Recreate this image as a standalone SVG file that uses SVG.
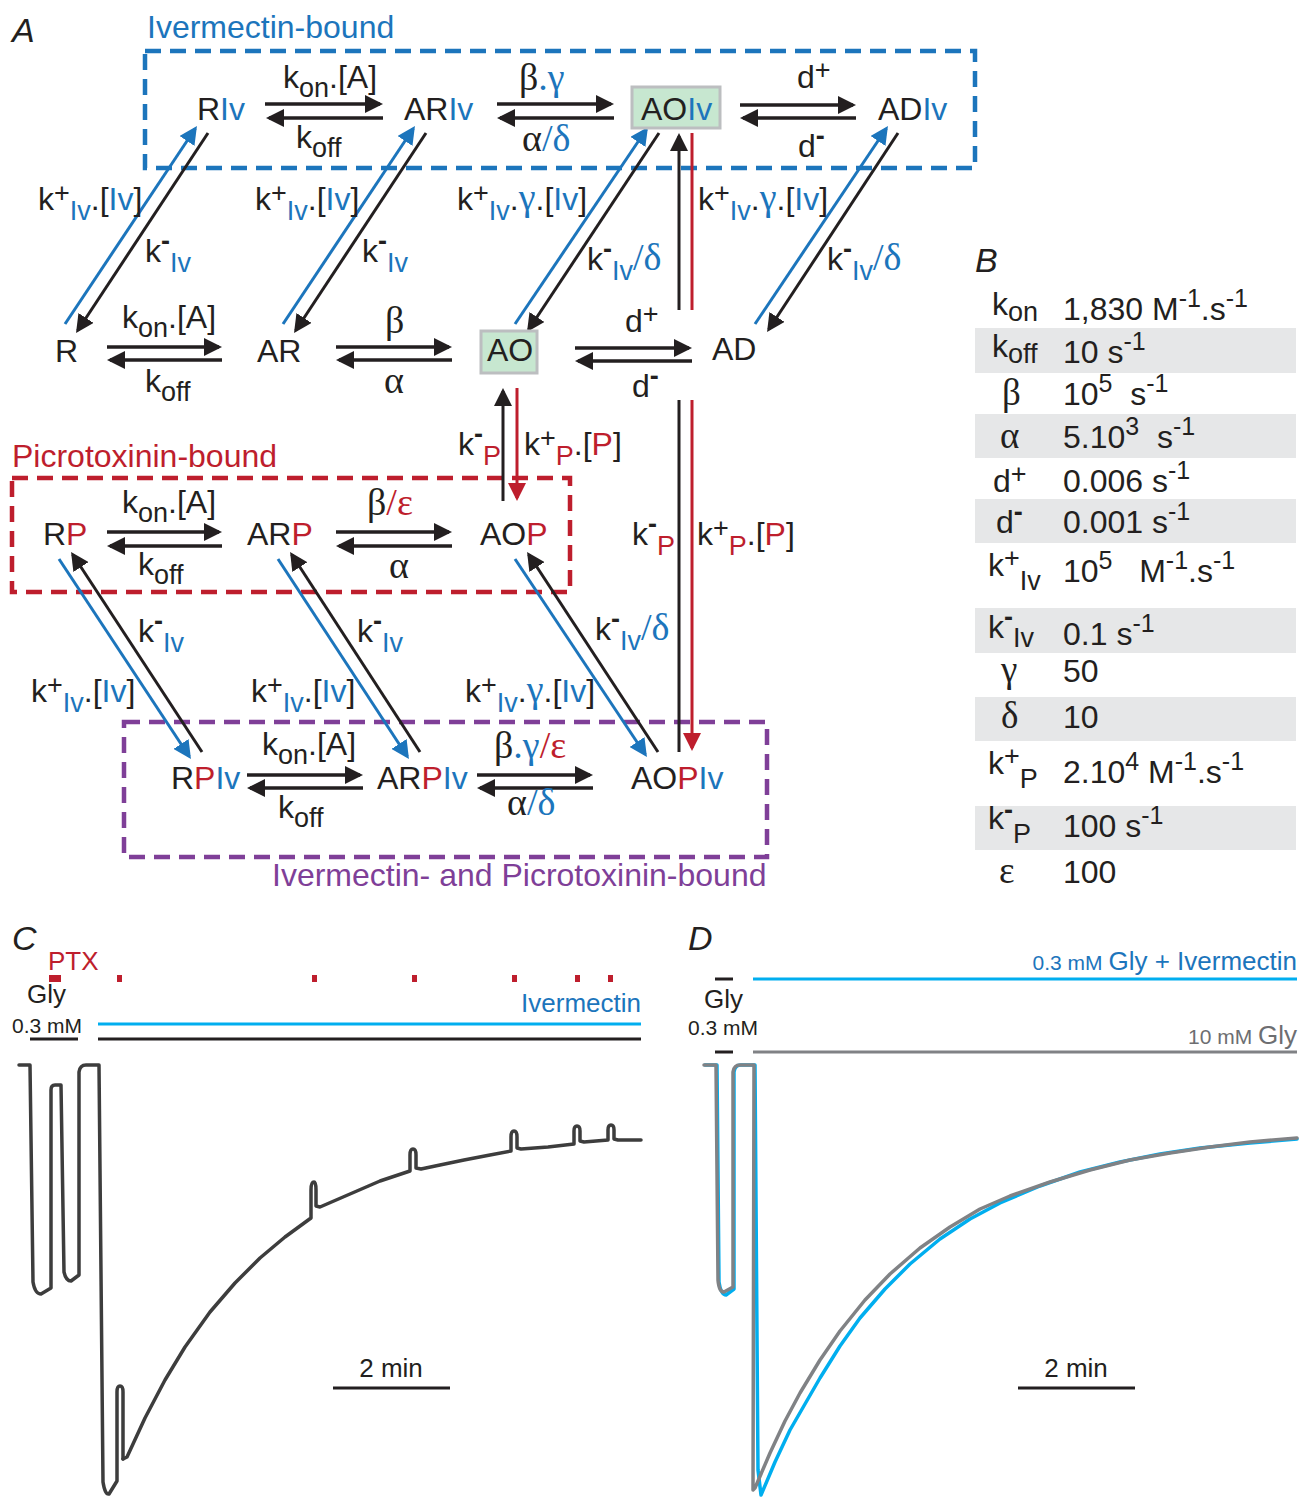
<svg xmlns="http://www.w3.org/2000/svg" width="1299" height="1497" viewBox="0 0 1299 1497">
<style>
text{font-family:"Liberation Sans",Arial,sans-serif;font-size:32px;fill:#231f20}
.sb{font-size:27px}
.mn{font-size:27px;font-weight:bold}
.sp{font-size:25px}
.g{font-family:"Liberation Serif","Times New Roman",serif;font-size:38px}
.gt{font-family:"Liberation Serif","Times New Roman",serif;font-size:37px}
.bl{fill:#1c75bc}
.rd{fill:#be1e2d}
.pu{fill:#7f3f98}
.it{font-style:italic;font-size:34px}
.ck{stroke:#231f20;stroke-width:3.5;fill:none}
.cb{stroke:#1c75bc;stroke-width:3;fill:none}
.cr{stroke:#be1e2d;stroke-width:3;fill:none}
.dk{stroke:#231f20;stroke-width:3;fill:none}
.bx{fill:none;stroke-width:4.5;stroke-dasharray:16 9}
.gb{fill:#c7e7d0;stroke:#bcbec0;stroke-width:3}
.row{fill:#e6e7e8}
.c26{font-size:26px}
.c21{font-size:21px}
.tr{fill:none;stroke-width:3.5;stroke-linejoin:round;stroke-linecap:round}
.gy{fill:#6d6e71}
</style>
<defs>
<marker id="ak" viewBox="0 0 18 18" refX="15" refY="9" markerWidth="18" markerHeight="18" markerUnits="userSpaceOnUse" orient="auto"><path d="M0,0 L18,9 L0,18 Z" fill="#231f20"/></marker>
<marker id="ab" viewBox="0 0 18 18" refX="15" refY="9" markerWidth="18" markerHeight="18" markerUnits="userSpaceOnUse" orient="auto"><path d="M0,0 L18,9 L0,18 Z" fill="#1c75bc"/></marker>
<marker id="ar" viewBox="0 0 18 18" refX="15" refY="9" markerWidth="18" markerHeight="18" markerUnits="userSpaceOnUse" orient="auto"><path d="M0,0 L18,9 L0,18 Z" fill="#be1e2d"/></marker>
</defs>

<!-- Panel A -->
<text class="it" x="12" y="42">A</text>

<g id="group-boxes">
<rect class="bx" x="145" y="51" width="830" height="117" stroke="#1c75bc"/>
<rect class="bx" x="12" y="478" width="558" height="114" stroke="#be1e2d"/>
<rect class="bx" x="124" y="722" width="643" height="135" stroke="#7f3f98"/>
<text class="bl" x="147" y="38">Ivermectin-bound</text>
<text class="rd" x="12" y="467">Picrotoxinin-bound</text>
<text class="pu" x="272" y="886">Ivermectin- and Picrotoxinin-bound</text>
</g>

<g id="connectors">
<path class="ck" d="M265,104H380" marker-end="url(#ak)"/>
<path class="ck" d="M383,118H269" marker-end="url(#ak)"/>
<path class="ck" d="M497,104H611" marker-end="url(#ak)"/>
<path class="ck" d="M614,118H500" marker-end="url(#ak)"/>
<path class="ck" d="M740,105H853" marker-end="url(#ak)"/>
<path class="ck" d="M856,118H743" marker-end="url(#ak)"/>
<path class="ck" d="M107,347H219" marker-end="url(#ak)"/>
<path class="ck" d="M222,360H110" marker-end="url(#ak)"/>
<path class="ck" d="M336,347H449" marker-end="url(#ak)"/>
<path class="ck" d="M452,360H339" marker-end="url(#ak)"/>
<path class="ck" d="M575,348H689" marker-end="url(#ak)"/>
<path class="ck" d="M692,361H578" marker-end="url(#ak)"/>
<path class="ck" d="M107,532H219" marker-end="url(#ak)"/>
<path class="ck" d="M222,546H110" marker-end="url(#ak)"/>
<path class="ck" d="M336,532H449" marker-end="url(#ak)"/>
<path class="ck" d="M452,546H339" marker-end="url(#ak)"/>
<path class="ck" d="M247,775H360" marker-end="url(#ak)"/>
<path class="ck" d="M363,788H250" marker-end="url(#ak)"/>
<path class="ck" d="M477,775H590" marker-end="url(#ak)"/>
<path class="ck" d="M593,788H480" marker-end="url(#ak)"/>
<path class="cb" d="M65,324L195.3,128.5" marker-end="url(#ab)"/>
<path class="dk" d="M208,133L77.7,330.5" marker-end="url(#ak)"/>
<path class="cb" d="M283,324L413.3,128.5" marker-end="url(#ab)"/>
<path class="dk" d="M426,133L295.7,330.5" marker-end="url(#ak)"/>
<path class="cb" d="M515,324L646.3,129.5" marker-end="url(#ab)"/>
<path class="dk" d="M659,133L528.7,329.5" marker-end="url(#ak)"/>
<path class="cb" d="M755,324L886.3,128.5" marker-end="url(#ab)"/>
<path class="dk" d="M898,133L768.7,329.5" marker-end="url(#ak)"/>
<path class="cb" d="M59,559L189.3,756.5" marker-end="url(#ab)"/>
<path class="dk" d="M202,752L72.7,554.5" marker-end="url(#ak)"/>
<path class="cb" d="M278,559L407.3,756.5" marker-end="url(#ab)"/>
<path class="dk" d="M420,752L291.7,554.5" marker-end="url(#ak)"/>
<path class="cb" d="M515,559L645.3,754.5" marker-end="url(#ab)"/>
<path class="dk" d="M658,752L528.7,554.5" marker-end="url(#ak)"/>
<path class="dk" d="M503,501V391" marker-end="url(#ak)"/>
<path class="cr" d="M517,388V498" marker-end="url(#ar)"/>
<path class="dk" d="M679,752V400"/>
<path class="dk" d="M679,310V136" marker-end="url(#ak)"/>
<path class="cr" d="M692,133V310"/>
<path class="cr" d="M692,400V748" marker-end="url(#ar)"/>
</g>

<g id="rate-labels">
<text x="283" y="88">k<tspan class="sb" dy="9">on</tspan><tspan dy="-9">.[A]</tspan></text>
<text x="296" y="148">k<tspan class="sb" dy="9">off</tspan></text>
<text class="g" x="519" y="90">β<tspan class="bl">.γ</tspan></text>
<text class="g" x="522" y="151">α<tspan class="bl">/δ</tspan></text>
<text x="797" y="88">d<tspan class="sb" dy="-9">+</tspan></text>
<text x="798" y="157">d<tspan class="mn" dy="-12">-</tspan></text>
<text x="38" y="210">k<tspan class="sb" dy="-8">+</tspan><tspan class="sb bl" dy="18">Iv</tspan><tspan dy="-10">.[<tspan class="bl">Iv</tspan>]</tspan></text>
<text x="145" y="262">k<tspan class="mn" dy="-12">-</tspan><tspan class="sb bl" dy="22">Iv</tspan></text>
<text x="255" y="210">k<tspan class="sb" dy="-8">+</tspan><tspan class="sb bl" dy="18">Iv</tspan><tspan dy="-10">.[<tspan class="bl">Iv</tspan>]</tspan></text>
<text x="362" y="262">k<tspan class="mn" dy="-12">-</tspan><tspan class="sb bl" dy="22">Iv</tspan></text>
<text x="457" y="210">k<tspan class="sb" dy="-8">+</tspan><tspan class="sb bl" dy="18">Iv</tspan><tspan dy="-10">.<tspan class="g bl">γ</tspan>.[<tspan class="bl">Iv</tspan>]</tspan></text>
<text x="587" y="270">k<tspan class="mn" dy="-12">-</tspan><tspan class="sb bl" dy="22">Iv</tspan><tspan class="g bl" dy="-10">/δ</tspan></text>
<text x="698" y="210">k<tspan class="sb" dy="-8">+</tspan><tspan class="sb bl" dy="18">Iv</tspan><tspan dy="-10">.<tspan class="g bl">γ</tspan>.[<tspan class="bl">Iv</tspan>]</tspan></text>
<text x="827" y="270">k<tspan class="mn" dy="-12">-</tspan><tspan class="sb bl" dy="22">Iv</tspan><tspan class="g bl" dy="-10">/δ</tspan></text>
<text x="122" y="328">k<tspan class="sb" dy="9">on</tspan><tspan dy="-9">.[A]</tspan></text>
<text x="145" y="392">k<tspan class="sb" dy="9">off</tspan></text>
<text class="g" x="385" y="333">β</text>
<text class="g" x="384" y="393">α</text>
<text x="625" y="332">d<tspan class="sb" dy="-9">+</tspan></text>
<text x="632" y="397">d<tspan class="mn" dy="-12">-</tspan></text>
<text x="458" y="455">k<tspan class="mn" dy="-12">-</tspan><tspan class="sb rd" dy="22">P</tspan></text>
<text x="524" y="455">k<tspan class="sb" dy="-8">+</tspan><tspan class="sb rd" dy="18">P</tspan><tspan dy="-10">.[<tspan class="rd">P</tspan>]</tspan></text>
<text x="632" y="545">k<tspan class="mn" dy="-12">-</tspan><tspan class="sb rd" dy="22">P</tspan></text>
<text x="697" y="545">k<tspan class="sb" dy="-8">+</tspan><tspan class="sb rd" dy="18">P</tspan><tspan dy="-10">.[<tspan class="rd">P</tspan>]</tspan></text>
<text x="122" y="513">k<tspan class="sb" dy="9">on</tspan><tspan dy="-9">.[A]</tspan></text>
<text x="138" y="575">k<tspan class="sb" dy="9">off</tspan></text>
<text class="g" x="367" y="515">β<tspan class="rd">/ε</tspan></text>
<text class="g" x="389" y="578">α</text>
<text x="138" y="642">k<tspan class="mn" dy="-12">-</tspan><tspan class="sb bl" dy="22">Iv</tspan></text>
<text x="31" y="702">k<tspan class="sb" dy="-8">+</tspan><tspan class="sb bl" dy="18">Iv</tspan><tspan dy="-10">.[<tspan class="bl">Iv</tspan>]</tspan></text>
<text x="357" y="642">k<tspan class="mn" dy="-12">-</tspan><tspan class="sb bl" dy="22">Iv</tspan></text>
<text x="251" y="702">k<tspan class="sb" dy="-8">+</tspan><tspan class="sb bl" dy="18">Iv</tspan><tspan dy="-10">.[<tspan class="bl">Iv</tspan>]</tspan></text>
<text x="595" y="640">k<tspan class="mn" dy="-12">-</tspan><tspan class="sb bl" dy="22">Iv</tspan><tspan class="g bl" dy="-10">/δ</tspan></text>
<text x="465" y="702">k<tspan class="sb" dy="-8">+</tspan><tspan class="sb bl" dy="18">Iv</tspan><tspan dy="-10">.<tspan class="g bl">γ</tspan>.[<tspan class="bl">Iv</tspan>]</tspan></text>
<text x="262" y="755">k<tspan class="sb" dy="9">on</tspan><tspan dy="-9">.[A]</tspan></text>
<text x="278" y="818">k<tspan class="sb" dy="9">off</tspan></text>
<text class="g" x="494" y="758">β<tspan class="bl">.γ</tspan><tspan class="rd">/ε</tspan></text>
<text class="g" x="507" y="815">α<tspan class="bl">/δ</tspan></text>
</g>

<g id="node-RIv"><text x="197" y="120">R<tspan class="bl">Iv</tspan></text></g>
<g id="node-ARIv"><text x="404" y="120">AR<tspan class="bl">Iv</tspan></text></g>
<g id="node-AOIv"><rect class="gb" x="632" y="87" width="88" height="41"/><text x="641" y="120">AO<tspan class="bl">Iv</tspan></text></g>
<g id="node-ADIv"><text x="878" y="120">AD<tspan class="bl">Iv</tspan></text></g>
<g id="node-R"><text x="55" y="362">R</text></g>
<g id="node-AR"><text x="257" y="362">AR</text></g>
<g id="node-AO"><rect class="gb" x="481" y="331" width="56" height="42"/><text x="487" y="361">AO</text></g>
<g id="node-AD"><text x="712" y="360">AD</text></g>
<g id="node-RP"><text x="43" y="545">R<tspan class="rd">P</tspan></text></g>
<g id="node-ARP"><text x="247" y="545">AR<tspan class="rd">P</tspan></text></g>
<g id="node-AOP"><text x="480" y="545">AO<tspan class="rd">P</tspan></text></g>
<g id="node-RPIv"><text x="171" y="789">R<tspan class="rd">P</tspan><tspan class="bl">Iv</tspan></text></g>
<g id="node-ARPIv"><text x="377" y="789">AR<tspan class="rd">P</tspan><tspan class="bl">Iv</tspan></text></g>
<g id="node-AOPIv"><text x="631" y="789">AO<tspan class="rd">P</tspan><tspan class="bl">Iv</tspan></text></g>

<!-- Panel B -->
<g id="panel-B">
<text class="it" x="975" y="272">B</text>
<rect class="row" x="975" y="328" width="321" height="45"/>
<rect class="row" x="975" y="414" width="321" height="44"/>
<rect class="row" x="975" y="499" width="321" height="44"/>
<rect class="row" x="975" y="608" width="321" height="45"/>
<rect class="row" x="975" y="697" width="321" height="44"/>
<rect class="row" x="975" y="806" width="321" height="44"/>
<text x="992" y="315">k<tspan class="sb" dy="6">on</tspan></text>
<text x="1063" y="320">1,830 M<tspan class="sp" dy="-13">-1</tspan><tspan dy="13">.s</tspan><tspan class="sp" dy="-13">-1</tspan></text>
<text x="992" y="357">k<tspan class="sb" dy="6">off</tspan></text>
<text x="1063" y="363">10 s<tspan class="sp" dy="-13">-1</tspan></text>
<text class="gt" x="1002" y="405">β</text>
<text x="1063" y="405">10<tspan class="sp" dy="-13">5</tspan><tspan dy="13">&#160;&#160;s</tspan><tspan class="sp" dy="-13">-1</tspan></text>
<text class="gt" x="1000" y="448">α</text>
<text x="1063" y="448">5.10<tspan class="sp" dy="-13">3</tspan><tspan dy="13">&#160;&#160;s</tspan><tspan class="sp" dy="-13">-1</tspan></text>
<text x="993" y="492">d<tspan class="sb" dy="-9">+</tspan></text>
<text x="1063" y="492">0.006 s<tspan class="sp" dy="-13">-1</tspan></text>
<text x="996" y="533">d<tspan class="mn" dy="-12">-</tspan></text>
<text x="1063" y="533">0.001 s<tspan class="sp" dy="-13">-1</tspan></text>
<text x="988" y="576">k<tspan class="sb" dy="-9">+</tspan><tspan class="sb" dy="23">Iv</tspan></text>
<text x="1063" y="582">10<tspan class="sp" dy="-13">5</tspan><tspan dy="13">&#160;&#160;&#160;M</tspan><tspan class="sp" dy="-13">-1</tspan><tspan dy="13">.s</tspan><tspan class="sp" dy="-13">-1</tspan></text>
<text x="988" y="638">k<tspan class="mn" dy="-12">-</tspan><tspan class="sb" dy="21">Iv</tspan></text>
<text x="1063" y="645">0.1 s<tspan class="sp" dy="-13">-1</tspan></text>
<text class="gt" x="1001" y="682">γ</text>
<text x="1063" y="682">50</text>
<text class="gt" x="1001" y="728">δ</text>
<text x="1063" y="728">10</text>
<text x="988" y="774">k<tspan class="sb" dy="-9">+</tspan><tspan class="sb" dy="23">P</tspan></text>
<text x="1063" y="783">2.10<tspan class="sp" dy="-13">4</tspan><tspan dy="13">&#160;M</tspan><tspan class="sp" dy="-13">-1</tspan><tspan dy="13">.s</tspan><tspan class="sp" dy="-13">-1</tspan></text>
<text x="988" y="829">k<tspan class="mn" dy="-10">-</tspan><tspan class="sb" dy="24">P</tspan></text>
<text x="1063" y="837">100 s<tspan class="sp" dy="-13">-1</tspan></text>
<text class="gt" x="999" y="883">ε</text>
<text x="1063" y="883">100</text>
</g>

<!-- Panel C -->
<g id="panel-C">
<text class="it" x="12" y="950">C</text>
<text class="rd c26" x="48" y="970">PTX</text>
<g fill="#be1e2d">
<rect x="49" y="975" width="12" height="7"/>
<rect x="117" y="975" width="5" height="7"/>
<rect x="312" y="975" width="5" height="7"/>
<rect x="412" y="975" width="5" height="7"/>
<rect x="512" y="975" width="5" height="7"/>
<rect x="575" y="975" width="5" height="7"/>
<rect x="608" y="975" width="5" height="7"/>
</g>
<text class="c26" x="27" y="1003">Gly</text>
<text class="c21" x="12" y="1033">0.3 mM</text>
<path d="M30,1039H78" stroke="#231f20" stroke-width="3"/>
<path d="M98,1024H641" stroke="#00aeef" stroke-width="3"/>
<path d="M98,1039H641" stroke="#231f20" stroke-width="3"/>
<text class="c26 bl" x="641" y="1012" text-anchor="end">Ivermectin</text>
<path class="tr" stroke="#3d3d3d" stroke-width="3" d="M19,1065H30L33,1282Q35,1294 41,1294L51,1288V1090Q51,1085 55,1085H61L64,1272Q66,1281 71,1281L79,1275V1072Q80,1065 86,1065H99L103,1482Q105,1495 109,1494L117,1481V1392Q117,1386 120,1386Q123,1386 123,1392V1459"/>
<path class="tr" stroke="#3d3d3d" stroke-width="4" d="M123,1459L127,1457L145,1418L165,1380L185,1347L210,1312L235,1283L260,1258L285,1237L311,1218V1190Q311,1182 314,1182Q316,1182 316,1190V1206L320,1207L350,1194L380,1181L410,1171V1155Q410,1149 413,1149Q416,1149 416,1155V1168L421,1169L440,1165L464,1160L490,1155L511,1151V1137Q511,1131 514,1131Q517,1131 517,1137V1148L521,1149L548,1147L574,1144V1131Q574,1126 577,1126Q580,1126 580,1131V1141L584,1142L608,1140V1130Q608,1125 611,1125Q614,1125 614,1130V1139L618,1140H641"/>
<path d="M333,1388H450" stroke="#231f20" stroke-width="3"/>
<text class="c26" x="391" y="1377" text-anchor="middle">2 min</text>
</g>

<!-- Panel D -->
<g id="panel-D">
<text class="it" x="688" y="950">D</text>
<text class="bl" x="1297" y="970" text-anchor="end"><tspan class="c21">0.3 mM </tspan><tspan class="c26">Gly + Ivermectin</tspan></text>
<path d="M715,979H733" stroke="#231f20" stroke-width="3"/>
<path d="M753,979H1297" stroke="#00aeef" stroke-width="3"/>
<text class="c26" x="704" y="1008">Gly</text>
<text class="c21" x="688" y="1035">0.3 mM</text>
<path d="M715,1052H733" stroke="#231f20" stroke-width="3"/>
<path d="M753,1052H1297" stroke="#808285" stroke-width="3"/>
<text class="gy" x="1297" y="1044" text-anchor="end"><tspan class="c21 gy">10 mM </tspan><tspan class="c26 gy">Gly</tspan></text>
<path class="tr" stroke="#00aeef" d="M705,1065H717L719,1282Q721,1295 726,1295L734,1289V1072Q735,1065 741,1065H755L758,1470L761,1495L775,1462L790,1430L805,1404L820,1378L840,1346L860,1318L885,1289L910,1264L940,1239L970,1219L1000,1203L1040,1186L1080,1172L1120,1162L1160,1154L1200,1148L1250,1143L1297,1139"/>
<path class="tr" stroke="#808285" d="M704,1065H716L718,1280Q719,1292 724,1292L733,1287V1072Q734,1065 740,1065H754L753,1490L755,1488L770,1453L785,1421L800,1393L820,1360L840,1331L865,1300L890,1274L920,1248L950,1227L980,1209L1010,1196L1050,1182L1090,1170L1130,1160L1170,1153L1210,1147L1250,1142L1297,1138"/>
<path d="M1018,1388H1135" stroke="#231f20" stroke-width="3"/>
<text class="c26" x="1076" y="1377" text-anchor="middle">2 min</text>
</g>
</svg>
